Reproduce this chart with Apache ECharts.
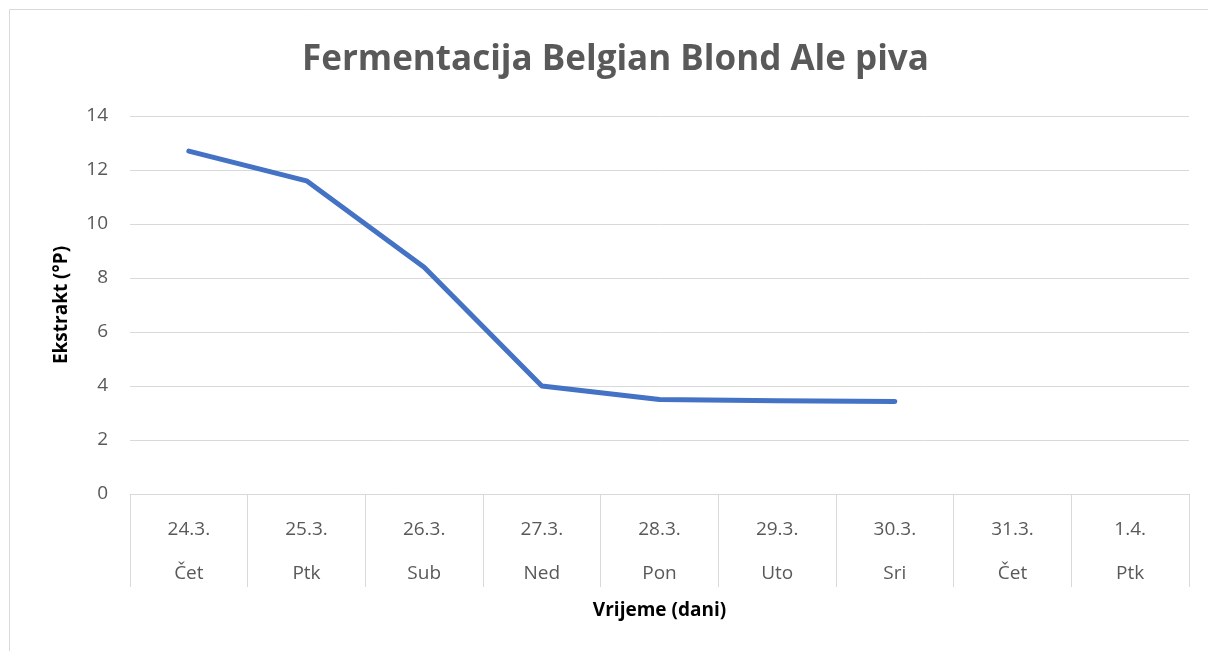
<!DOCTYPE html>
<html>
<head>
<meta charset="utf-8">
<script src="https://cdn.jsdelivr.net/npm/echarts@6/dist/echarts.min.js"></script>
<style>
  html, body { margin: 0; padding: 0; background: #fff; }
  #chart { width: 1208px; height: 651px; }
</style>
</head>
<body>
<div id="chart"></div>
<script>
// categories: date + day of week
var dates = ['24.3.', '25.3.', '26.3.', '27.3.', '28.3.', '29.3.', '30.3.', '31.3.', '1.4.'];
var days = ['Čet', 'Ptk', 'Sub', 'Ned', 'Pon', 'Uto', 'Sri', 'Čet', 'Ptk'];
// extract in °P (no readings for the last two days)
var ekstrakt = [12.7, 11.6, 8.4, 4.0, 3.5, 3.45, 3.43, null, null];

var categories = dates.map(function (d, i) { return d + '\n' + days[i]; });

var font = 'Open Sans';
var chart = echarts.init(document.getElementById('chart'));

chart.setOption({
    animation: false,
    backgroundColor: '#fff',
    title: {
        text: 'Fermentacija Belgian Blond Ale piva',
        left: 297,
        top: 38,
        textStyle: {
            fontFamily: font,
            fontSize: 35,
            fontWeight: 'bold',
            color: '#595959'
        }
    },
    graphic: [{
        type: 'rect',
        silent: true,
        shape: { x: 9.5, y: 9.5, width: 1400, height: 900 },
        style: { fill: 'none', stroke: '#d9d9d9', lineWidth: 1 }
    }],
    grid: {
        left: 130,
        right: 19,
        top: 116,
        bottom: 157
    },
    xAxis: {
        type: 'category',
        data: categories,
        boundaryGap: true,
        name: 'Vrijeme (dani)',
        nameLocation: 'middle',
        nameGap: 106,
        nameTextStyle: {
            fontFamily: font,
            fontSize: 19,
            fontWeight: 'bold',
            color: '#000'
        },
        axisLine: { show: true, lineStyle: { color: '#d9d9d9', width: 1 } },
        axisTick: {
            show: true,
            length: 93,
            lineStyle: { color: '#d9d9d9', width: 1 }
        },
        axisLabel: {
            margin: 14,
            fontFamily: font,
            fontSize: 19,
            lineHeight: 44,
            color: '#595959'
        }
    },
    yAxis: {
        type: 'value',
        min: 0,
        max: 14,
        interval: 2,
        name: 'Ekstrakt (°P)',
        nameLocation: 'middle',
        nameRotate: 90,
        nameGap: 59,
        nameTextStyle: {
            fontFamily: font,
            fontSize: 19,
            fontWeight: 'bold',
            color: '#000'
        },
        axisLine: { show: false },
        axisTick: { show: false },
        axisLabel: {
            margin: 22,
            fontFamily: font,
            fontSize: 19,
            color: '#595959'
        },
        splitLine: { lineStyle: { color: '#d9d9d9', width: 1 } }
    },
    series: [{
        type: 'line',
        data: ekstrakt,
        symbol: 'none',
        connectNulls: false,
        lineStyle: { color: '#4472C4', width: 5, cap: 'round', join: 'round' },
        itemStyle: { color: '#4472C4' }
    }]
});
</script>
</body>
</html>
